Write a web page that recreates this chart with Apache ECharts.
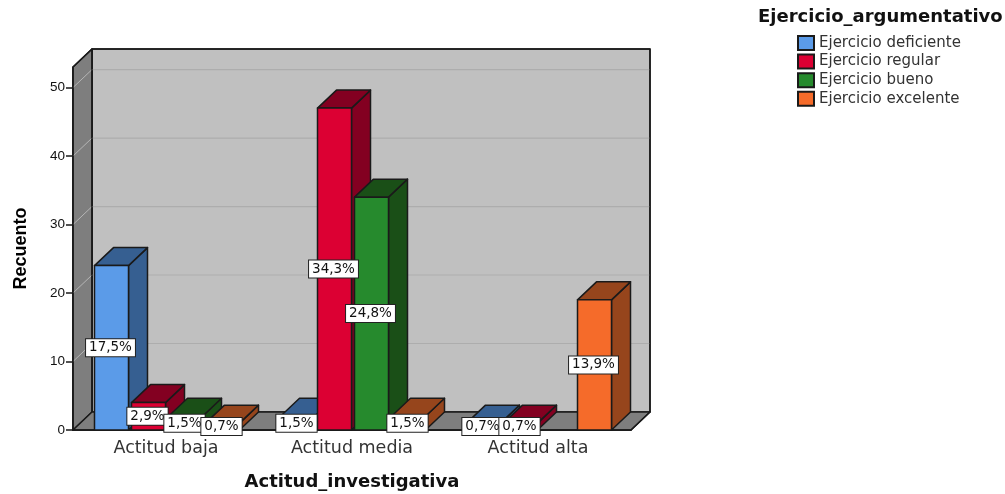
<!DOCTYPE html>
<html>
<head>
<meta charset="utf-8">
<style>html,body{margin:0;padding:0;background:#fff}#c{width:1005px;height:494px}</style>
<script src="https://cdn.jsdelivr.net/npm/echarts@6/dist/echarts.min.js"></script>
</head>
<body>
<div id="c"></div>
<script>
const categories = ['Actitud baja', 'Actitud media', 'Actitud alta'];
const yTicks = [0, 10, 20, 30, 40, 50];
const deficiente = [24, 2, 1];
const regular = [4, 47, 1];
const bueno = [2, 34, 0];
const excelente = [1, 2, 19];
const seriesNames = ['Ejercicio deficiente', 'Ejercicio regular', 'Ejercicio bueno', 'Ejercicio excelente'];
const frontColors = ['#5B9BE8', '#DC0033', '#268A2D', '#F56B2A'];
const darkColors = ['#365F91', '#830021', '#1A4F17', '#96451C'];
const allValues = [deficiente, regular, bueno, excelente];
const total = allValues.flat().reduce((a, b) => a + b, 0);

const DX = 19, DY = 18, BAND_FRACTION = 37 / 186, BAR_FRACTION = 34 / 186;
const FONT = '"Liberation Sans", Arial, sans-serif';
const WIDE = '"DejaVu Sans", sans-serif';
const line = { stroke: '#1a1a1a', lineWidth: 1.5, lineJoin: 'round' };

function poly(points, fill, z2) {
  return { type: 'polygon', shape: { points }, style: { fill, ...line }, z2: z2 || 0 };
}

function renderWalls(params, api) {
  const g = params.coordSys;
  const x0 = g.x, x1 = g.x + g.width, y0 = g.y, y1 = g.y + g.height;
  const children = [
    poly([[x0 + DX, y0 - DY], [x1 + DX, y0 - DY], [x1 + DX, y1 - DY], [x0 + DX, y1 - DY]], '#C0C0C0'),
    poly([[x0, y0], [x0 + DX, y0 - DY], [x0 + DX, y1 - DY], [x0, y1]], '#7E7E7E'),
    poly([[x0, y1], [x0 + DX, y1 - DY], [x1 + DX, y1 - DY], [x1, y1]], '#7E7E7E')
  ];
  yTicks.slice(1).forEach(v => {
    const y = api.coord([0, v])[1];
    children.push({ type: 'line', shape: { x1: x0 + DX, y1: y - DY, x2: x1 + DX, y2: y - DY }, style: { stroke: '#ADADAD', lineWidth: 1.2 }, z2: 1 });
    children.push({ type: 'line', shape: { x1: x0, y1: y, x2: x0 + DX, y2: y - DY }, style: { stroke: '#B5B5B5', lineWidth: 1 }, z2: 1 });
  });
  children.push({ type: 'polyline', shape: { points: [[x0, y0], [x0 + DX, y0 - DY], [x1 + DX, y0 - DY], [x1 + DX, y1 - DY], [x1, y1], [x0, y1], [x0, y0]] }, style: { fill: 'none', ...line }, z2: 2 });
  children.push({ type: 'line', shape: { x1: x0 + DX, y1: y0 - DY, x2: x0 + DX, y2: y1 - DY }, style: { ...line }, z2: 2 });
  return { type: 'group', children };
}

function makeBarRenderer(si) {
  return function (params, api) {
    const val = api.value(1);
    if (!val) return null;
    const cat = api.value(0);
    const band = api.size([1, 0])[0];
    const center = api.coord([cat, 0])[0];
    const left = center + (si - 2) * band * BAND_FRACTION + 2.5;
    const w = band * BAR_FRACTION;
    const yb = api.coord([cat, 0])[1], yt = api.coord([cat, val])[1];
    const r = left + w;
    const label = (val / total * 100).toFixed(1).replace('.', ',') + '%';
    return {
      type: 'group',
      children: [
        poly([[r, yt], [r + DX, yt - DY], [r + DX, yb - DY], [r, yb]], darkColors[si]),
        poly([[left, yt], [left + DX, yt - DY], [r + DX, yt - DY], [r, yt]], darkColors[si]),
        poly([[left, yt], [r, yt], [r, yb], [left, yb]], frontColors[si]),
        {
          type: 'text', z2: 100,
          style: {
            x: left + w / 2 - 1, y: (yt + yb) / 2, text: label,
            align: 'center', verticalAlign: 'middle',
            font: '13.5px ' + WIDE, fill: '#111',
            backgroundColor: '#fff', borderColor: '#222', borderWidth: 1,
            padding: [2, 3, 1, 3]
          }
        }
      ]
    };
  };
}

const chart = echarts.init(document.getElementById('c'), null, { renderer: 'canvas' });
chart.setOption({
  animation: false,
  backgroundColor: '#fff',
  title: {
    text: 'Ejercicio_argumentativo', left: 758, top: 8, padding: 0,
    textStyle: { fontFamily: WIDE, fontWeight: 'bold', fontSize: 18, color: '#111' }
  },
  legend: {
    orient: 'vertical', left: 797, top: 35, padding: 0, itemWidth: 16, itemHeight: 14, itemGap: 2.6,
    data: seriesNames, selectedMode: false, icon: 'rect',
    textStyle: { fontFamily: WIDE, fontSize: 15, color: '#333', lineHeight: 14 }
  },
  grid: { left: 73, right: 374, top: 67, bottom: 64, outerBoundsMode: 'none' },
  xAxis: {
    type: 'category', data: categories,
    name: 'Actitud_investigativa', nameLocation: 'middle', nameGap: 43,
    nameTextStyle: { fontFamily: WIDE, fontWeight: 'bold', fontSize: 18, color: '#111' },
    axisLine: { show: true, lineStyle: { color: '#1a1a1a', width: 1.5 } },
    axisTick: { show: false }, splitLine: { show: false },
    axisLabel: { fontFamily: WIDE, fontSize: 17.5, color: '#333', margin: 9 }
  },
  yAxis: {
    type: 'value', min: 0, max: 53,
    name: 'Recuento', nameLocation: 'middle', nameGap: 43, nameRotate: 90,
    nameTextStyle: { fontFamily: FONT, fontWeight: 'bold', fontSize: 18, color: '#000' },
    axisLine: { show: true, lineStyle: { color: '#1a1a1a', width: 1.5 } },
    axisTick: { show: true, length: 7, customValues: yTicks, lineStyle: { color: '#1a1a1a', width: 1.5 } },
    splitLine: { show: false },
    axisLabel: { customValues: yTicks, fontFamily: FONT, fontSize: 13.5, color: '#111', margin: 8 }
  },
  series: [
    { type: 'custom', name: 'fondo', silent: true, renderItem: renderWalls, data: [[0, 0]], encode: { x: 0, y: 1 }, z: 2 },
    ...allValues.map((vals, si) => ({
      type: 'custom',
      name: seriesNames[si],
      renderItem: makeBarRenderer(si),
      data: vals.map((v, i) => [i, v]),
      encode: { x: 0, y: 1 },
      itemStyle: { color: frontColors[si], borderColor: '#1a1a1a', borderWidth: 1.5 },
      z: 3
    }))
  ]
});
</script>
</body>
</html>
